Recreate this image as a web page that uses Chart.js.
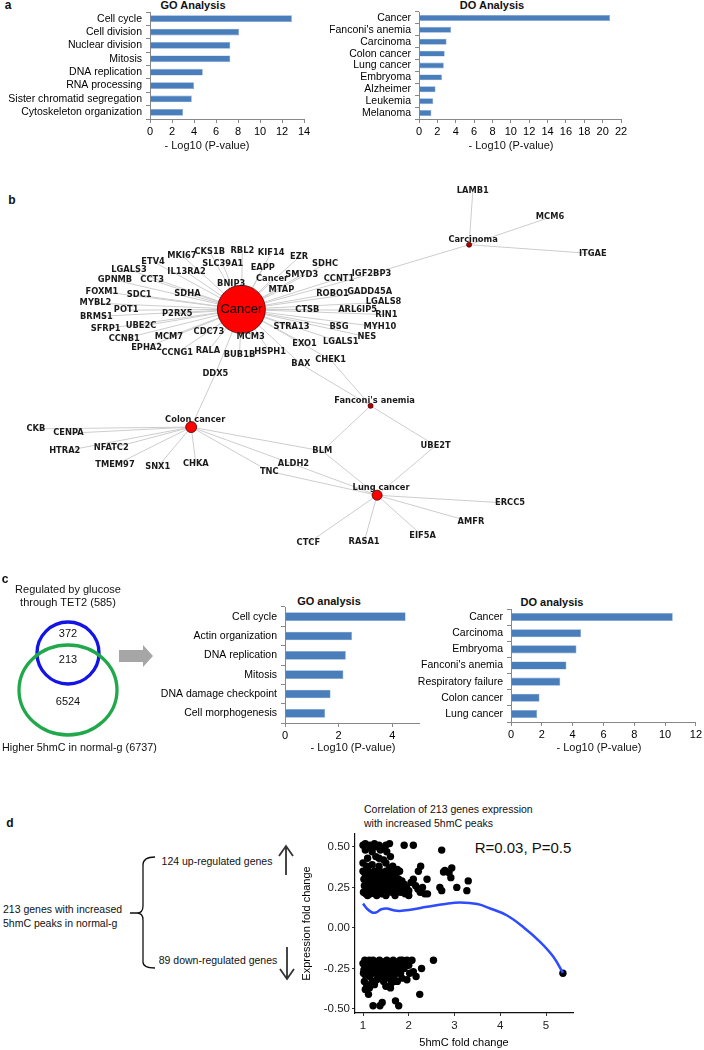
<!DOCTYPE html>
<html>
<head>
<meta charset="utf-8">
<title>Enrichment, network and correlation figure</title>
<script src="https://cdn.jsdelivr.net/npm/chart.js@4.4.0/dist/chart.umd.min.js"></script>
<style>
    body { margin: 0; background: #fff; width: 704px; height: 1050px; position: relative; overflow: hidden;
           font-family: "Liberation Sans", Arial, sans-serif; color: #111; }
    canvas { position: absolute; }
    .t { position: absolute; white-space: nowrap; font-size: 11px; transform: translate(-50%, -50%); line-height: 1; }
    .l { position: absolute; white-space: nowrap; font-size: 10.5px; transform: translateY(-50%); line-height: 1; }
    .b { font-weight: bold; }
    .p { font-weight: bold; font-size: 12px; }
</style>
</head>
<body>

<!-- panel a -->
<div class="t p" style="left:8px;top:5px">a</div>
<div class="t b" style="left:193px;top:5px">GO Analysis</div>
<div class="t b" style="left:492px;top:5px">DO Analysis</div>
<canvas id="goA" width="320" height="141" style="left:0;top:0"></canvas>
<canvas id="doA" width="374" height="141" style="left:330px;top:0"></canvas>
<div class="t" style="left:207px;top:145px">- Log10 (P-value)</div>
<div class="t" style="left:511px;top:145px">- Log10 (P-value)</div>

<!-- panel b -->
<div class="t p" style="left:12px;top:200px">b</div>
<canvas id="network" width="704" height="432" style="left:0;top:150px"></canvas>

<!-- panel c -->
<div class="t p" style="left:5px;top:579px">c</div>
<svg style="position:absolute;left:0;top:600px" width="160" height="150">
    <circle cx="68" cy="53" r="31" fill="none" stroke="#1414e6" stroke-width="3.3"/>
    <ellipse cx="68" cy="90" rx="49" ry="45" fill="none" stroke="#20a84a" stroke-width="3.3"/>
    <polygon points="119,50 143,50 143,45 153,56 143,67 143,62 119,62" fill="#a6a6a6"/>
</svg>
<div class="t" style="left:68px;top:589px">Regulated by glucose</div>
<div class="t" style="left:68px;top:602px">through TET2 (585)</div>
<div class="t" style="left:68px;top:633px" id="vennTop"></div>
<div class="t" style="left:68px;top:659px" id="vennMid"></div>
<div class="t" style="left:68px;top:701px" id="vennLow"></div>
<div class="l" style="left:2px;top:747px;font-size:10.8px">Higher 5hmC in normal-g (6737)</div>
<div class="t b" style="left:329px;top:601px">GO analysis</div>
<div class="t b" style="left:552px;top:602px">DO analysis</div>
<canvas id="goC" width="270" height="150" style="left:160px;top:595px"></canvas>
<canvas id="doC" width="299" height="149" style="left:405px;top:595px"></canvas>
<div class="t" style="left:353px;top:747px">- Log10 (P-value)</div>
<div class="t" style="left:599px;top:747px">- Log10 (P-value)</div>

<!-- panel d -->
<div class="t p" style="left:10px;top:823px">d</div>
<svg style="position:absolute;left:0;top:780px" width="300" height="270">
    <path d="M155,77 C147,77 143,79 143,85 L143,126 C143,131 141,133 137,133 L130,133 M137,133 C141,133 143,135 143,140 L143,182 C143,186 147,188 155,188"
          fill="none" stroke="#111" stroke-width="1.3"/>
    <path d="M286,95 L286,66 M279,76 L286,66 L293,76" fill="none" stroke="#333" stroke-width="1.8"/>
    <path d="M287,167 L287,199 M280,189 L287,199 L294,189" fill="none" stroke="#333" stroke-width="1.8"/>
</svg>
<div class="t" style="left:217px;top:861px;font-size:10.5px">124 up-regulated genes</div>
<div class="t" style="left:218px;top:960px;font-size:10.5px">89 down-regulated genes</div>
<div class="l" style="left:3px;top:909px">213 genes with increased</div>
<div class="l" style="left:3px;top:923px">5hmC peaks in normal-g</div>
<div class="l" style="left:364px;top:809px">Correlation of 213 genes expression</div>
<div class="l" style="left:364px;top:823px">with increased 5hmC peaks</div>
<div class="t" style="left:523px;top:847px;font-size:15px">R=0.03, P=0.5</div>
<canvas id="corr" width="300" height="225" style="left:290px;top:825px"></canvas>

<script>
// ---- panel a: enrichment of genes (-log10 p) ----
var goTermsA = ['Cell cycle', 'Cell division', 'Nuclear division', 'Mitosis', 'DNA replication',
                'RNA processing', 'Sister chromatid segregation', 'Cytoskeleton organization'];
var goScoresA = [12.9, 8.1, 7.3, 7.3, 4.8, 4.0, 3.8, 3.0];
var doTermsA = ['Cancer', "Fanconi's anemia", 'Carcinoma', 'Colon cancer', 'Lung cancer',
                'Embryoma', 'Alzheimer', 'Leukemia', 'Melanoma'];
var doScoresA = [20.8, 3.5, 3.0, 2.8, 2.7, 2.5, 1.8, 1.55, 1.35];

// ---- panel c: overlap genes ----
var vennCounts = [372, 213, 6524];
var goTermsC = ['Cell cycle', 'Actin organization', 'DNA replication', 'Mitosis',
                'DNA damage checkpoint', 'Cell morphogenesis'];
var goScoresC = [4.5, 2.5, 2.27, 2.18, 1.7, 1.5];
var doTermsC = ['Cancer', 'Carcinoma', 'Embryoma', "Fanconi's anemia", 'Respiratory failure',
                'Colon cancer', 'Lung cancer'];
var doScoresC = [10.5, 4.55, 4.25, 3.6, 3.2, 1.85, 1.7];

// ---- panel b: disease network (layout) ----
var hubNames = ['Cancer', 'Carcinoma', "Fanconi's anemia", 'Colon cancer', 'Lung cancer'];
var hubX = [233, 478, 372, 179, 379];
var hubY = [302, 229, 411, 435, 512];
var geneNames = ['CKS1B', 'RBL2', 'KIF14', 'MKI67', 'EZR', 'ETV4', 'SLC39A1', 'SDHC', 'EAPP', 'LGALS3',
    'IL13RA2', 'SMYD3', 'Cancer', 'CCNT1', 'IGF2BP3', 'GPNMB', 'CCT3', 'BNIP3', 'MTAP', 'FOXM1',
    'SDC1', 'SDHA', 'ROBO1', 'GADD45A', 'MYBL2', 'LGALS8', 'POT1', 'P2RX5', 'CTSB', 'ARL6IP5',
    'RIN1', 'BRMS1', 'UBE2C', 'SFRP1', 'STRA13', 'BSG', 'MYH10', 'CDC73', 'MCM3', 'NES',
    'CCNB1', 'MCM7', 'LGALS1', 'EXO1', 'EPHA2', 'CCNG1', 'RALA', 'BUB1B', 'HSPH1', 'CHEK1',
    'BAX', 'DDX5', 'LAMB1', 'MCM6', 'ITGAE', 'CKB', 'CENPA', 'HTRA2', 'NFATC2', 'TMEM97',
    'SNX1', 'CHKA', 'TNC', 'ALDH2', 'BLM', 'UBE2T', 'CTCF', 'RASA1', 'EIF5A', 'AMFR', 'ERCC5'];
var geneX = [199, 234, 265, 169, 295, 138, 213, 323, 256, 112,
    174, 298, 266, 338, 373, 97, 137, 222, 276, 83,
    123, 175, 331, 371, 76, 386, 109, 164, 304, 358,
    389, 77, 125, 87, 287, 338, 382, 198, 243, 368,
    107, 155, 340, 301, 131, 164, 197, 231, 264, 329,
    297, 205, 482, 565, 611, 12, 47, 43, 93, 97,
    143, 184, 263, 289, 320, 442, 305, 365, 428, 480, 522];
var geneY = [237, 236, 238, 241, 243, 248, 251, 251, 255, 257,
    260, 263, 268, 267, 262, 269, 269, 273, 280, 282,
    286, 285, 284, 282, 295, 294, 303, 307, 302, 303,
    308, 310, 321, 324, 322, 322, 322, 327, 333, 333,
    335, 333, 339, 341, 345, 351, 349, 353, 350, 359,
    364, 375, 168, 198, 239, 437, 442, 462, 459, 478,
    480, 476, 485, 477, 462, 456, 566, 565, 558, 542, 521];
// which hubs (index into hubNames) each gene is linked to
var geneLinks = [[0], [0], [0], [0], [0], [0], [0], [0], [0], [0],
    [0], [0], [0], [0], [0, 1], [0], [0], [0], [0], [0],
    [0], [0], [0], [0], [0], [0], [0], [0], [0], [0],
    [0], [0], [0], [0], [0], [0], [0], [0], [0], [0],
    [0], [0], [0], [0], [0], [0], [0], [0], [0], [0, 2],
    [0, 2], [0, 3], [1], [1], [1], [3], [3], [3], [3], [3],
    [3], [3], [3, 4], [3, 4], [2, 3, 4], [2, 4], [4], [4], [4], [4], [4]];

// ---- panel d: 5hmC fold change vs expression fold change ----
var upRegulated = [
    [1.00, 0.51], [1.05, 0.52], [1.10, 0.50], [1.15, 0.51], [1.20, 0.50], [1.25, 0.52], [1.30, 0.50],
    [1.35, 0.51], [1.42, 0.49], [1.50, 0.51], [1.58, 0.52], [1.90, 0.51], [2.10, 0.51], [2.72, 0.48],
    [1.05, 0.48], [1.20, 0.47], [1.38, 0.48], [1.52, 0.47], [1.28, 0.44], [1.35, 0.43], [1.45, 0.42],
    [1.60, 0.44], [1.10, 0.43], [1.00, 0.40], [1.08, 0.38], [1.20, 0.39], [1.35, 0.38], [1.50, 0.40],
    [1.58, 0.37], [1.65, 0.38], [1.75, 0.36], [1.80, 0.35], [2.26, 0.38], [2.21, 0.35], [2.76, 0.345],
    [2.94, 0.37], [2.88, 0.34],
    [1.00, 0.35], [1.02, 0.30], [1.03, 0.26], [1.01, 0.22], [1.05, 0.33], [1.07, 0.28], [1.08, 0.24],
    [1.06, 0.21], [1.10, 0.36], [1.12, 0.31], [1.13, 0.27], [1.11, 0.23], [1.15, 0.34], [1.17, 0.29],
    [1.18, 0.25], [1.16, 0.21], [1.20, 0.32], [1.22, 0.27], [1.23, 0.23], [1.25, 0.35], [1.27, 0.30],
    [1.28, 0.26], [1.26, 0.21], [1.30, 0.33], [1.32, 0.28], [1.33, 0.24], [1.35, 0.36], [1.37, 0.31],
    [1.38, 0.27], [1.36, 0.22], [1.40, 0.34], [1.42, 0.29], [1.43, 0.25], [1.41, 0.21], [1.45, 0.32],
    [1.47, 0.27], [1.48, 0.23], [1.50, 0.35], [1.52, 0.30], [1.53, 0.26], [1.51, 0.21], [1.55, 0.33],
    [1.57, 0.28], [1.58, 0.24], [1.60, 0.31], [1.62, 0.26], [1.63, 0.22], [1.65, 0.34], [1.67, 0.29],
    [1.68, 0.25], [1.70, 0.21], [1.72, 0.32], [1.74, 0.27], [1.76, 0.23], [1.78, 0.30], [1.80, 0.26],
    [1.82, 0.22], [1.85, 0.29], [1.88, 0.24], [1.90, 0.27], [1.92, 0.21], [1.95, 0.25], [2.00, 0.23],
    [2.05, 0.28], [2.10, 0.30], [2.15, 0.26], [2.20, 0.24], [2.25, 0.22], [2.30, 0.25], [2.35, 0.21],
    [2.40, 0.30], [2.41, 0.21], [2.00, 0.20], [1.10, 0.20], [1.30, 0.20], [1.50, 0.20], [1.70, 0.20],
    [2.68, 0.25], [2.72, 0.23], [3.05, 0.25], [3.30, 0.29], [3.27, 0.23], [2.92, 0.31], [2.79, 0.355]
];
var downRegulated = [
    [1.00, -0.22], [1.02, -0.26], [1.04, -0.20], [1.05, -0.29], [1.07, -0.24], [1.09, -0.21], [1.10, -0.27],
    [1.12, -0.23], [1.14, -0.20], [1.15, -0.30], [1.17, -0.25], [1.19, -0.22], [1.20, -0.28], [1.22, -0.20],
    [1.24, -0.24], [1.26, -0.27], [1.28, -0.21], [1.30, -0.25], [1.32, -0.29], [1.34, -0.22], [1.36, -0.20],
    [1.38, -0.26], [1.40, -0.23], [1.42, -0.29], [1.44, -0.21], [1.46, -0.25], [1.48, -0.27], [1.50, -0.22],
    [1.52, -0.20], [1.54, -0.26], [1.56, -0.30], [1.58, -0.23], [1.60, -0.21], [1.62, -0.27], [1.64, -0.24],
    [1.66, -0.20], [1.68, -0.31], [1.70, -0.22], [1.73, -0.26], [1.76, -0.21], [1.78, -0.24], [1.80, -0.28],
    [1.83, -0.22], [1.86, -0.20], [1.90, -0.25], [1.93, -0.21], [1.96, -0.20], [2.00, -0.23], [2.07, -0.20],
    [2.10, -0.27], [1.01, -0.28], [1.11, -0.25], [1.21, -0.23], [1.31, -0.21], [1.41, -0.27], [1.51, -0.29],
    [1.61, -0.24], [1.71, -0.28], [1.81, -0.20],
    [1.03, -0.33], [1.08, -0.35], [1.05, -0.38], [1.12, -0.41], [1.14, -0.37], [1.20, -0.33], [1.25, -0.35],
    [1.30, -0.32], [1.45, -0.33], [1.50, -0.36], [1.55, -0.31], [1.60, -0.37], [1.62, -0.34], [1.70, -0.33],
    [1.75, -0.33], [1.82, -0.28], [1.85, -0.31], [1.40, -0.30],
    [1.22, -0.48], [1.37, -0.48], [1.42, -0.46], [1.71, -0.45], [1.78, -0.48],
    [2.16, -0.30], [2.28, -0.25], [2.54, -0.20], [2.24, -0.41], [1.96, -0.32], [2.02, -0.28], [5.37, -0.28]
];
var fitX = [1.0, 1.1, 1.2, 1.28, 1.4, 1.52, 1.65, 1.8, 2.0, 2.4, 2.8, 3.12, 3.5, 3.78, 4.14, 4.5, 4.87, 5.16, 5.37];
var fitY = [0.15, 0.115, 0.095, 0.095, 0.115, 0.12, 0.11, 0.105, 0.11, 0.13, 0.148, 0.156, 0.147, 0.12, 0.078, 0.006, -0.086, -0.178, -0.278];

Chart.defaults.font.family = '"Liberation Sans", Arial, sans-serif';
Chart.defaults.color = '#000';
Chart.defaults.animation = false;
Chart.defaults.responsive = false;
Chart.defaults.plugins.legend.display = false;
Chart.defaults.plugins.tooltip.enabled = false;

function enrichmentChart(id, terms, scores, xmax, axisWidth, padTop, padRight, barPct, labelSize) {
    new Chart(document.getElementById(id), {
        type: 'bar',
        data: {
            labels: terms,
            datasets: [{
                data: scores,
                backgroundColor: '#4a7ebb',
                borderColor: '#7ea3d4',
                borderWidth: 0.6,
                barPercentage: barPct,
                categoryPercentage: 1
            }]
        },
        options: {
            indexAxis: 'y',
            layout: { padding: { top: padTop, right: padRight, left: 0, bottom: 0 } },
            scales: {
                x: {
                    min: 0,
                    max: xmax,
                    ticks: { stepSize: 2, includeBounds: false, font: { size: 11 }, padding: 2, maxRotation: 0 },
                    grid: { drawOnChartArea: false, tickLength: 4, color: '#888' },
                    border: { color: '#888' },
                    afterFit: function (s) { s.height = 22; }
                },
                y: {
                    ticks: { font: { size: labelSize }, padding: 4, autoSkip: false },
                    grid: { drawOnChartArea: false, tickLength: 4, color: '#888' },
                    border: { color: '#888' },
                    afterFit: function (s) { s.width = axisWidth; }
                }
            }
        }
    });
}

enrichmentChart('goA', goTermsA, goScoresA, 14, 150, 12, 16, 0.5, 10.5);
enrichmentChart('doA', doTermsA, doScoresA, 22, 89, 12, 83, 0.5, 10.5);
enrichmentChart('goC', goTermsC, goScoresC, 5, 125, 12, 11, 0.45, 10.5);
enrichmentChart('doC', doTermsC, doScoresC, 12, 106, 14, 4, 0.5, 10.5);

// network
var edgePoints = [];
geneNames.forEach(function (name, i) {
    geneLinks[i].forEach(function (h) {
        edgePoints.push({ x: hubX[h], y: hubY[h] });
        edgePoints.push({ x: geneX[i], y: geneY[i] });
        edgePoints.push({ x: geneX[i], y: null });
    });
});
var hubRadius = [24, 2.5, 2.5, 5.5, 5];
var hubFill = ['#ff0000', '#b00000', '#b00000', '#ff0000', '#ff0000'];

var networkLabels = {
    id: 'networkLabels',
    afterDatasetsDraw: function (chart) {
        var ctx = chart.ctx, xs = chart.scales.x, ys = chart.scales.y;
        ctx.save();
        ctx.textAlign = 'center';
        ctx.textBaseline = 'middle';
        ctx.fillStyle = '#1a1a1a';
        ctx.font = 'bold 8.3px "DejaVu Sans"';
        geneNames.forEach(function (name, i) {
            ctx.fillText(name, xs.getPixelForValue(geneX[i]), ys.getPixelForValue(geneY[i]));
        });
        hubNames.forEach(function (name, i) {
            var px = xs.getPixelForValue(hubX[i]), py = ys.getPixelForValue(hubY[i]);
            if (i === 0) {
                ctx.font = '13px "Liberation Sans"';
                ctx.fillStyle = '#000';
                ctx.fillText(name, px, py);
                ctx.font = 'bold 8.3px "DejaVu Sans"';
                ctx.fillStyle = '#1a1a1a';
            } else {
                ctx.fillText(name, px + 4, py - hubRadius[i] - 2);
            }
        });
        ctx.restore();
    }
};

new Chart(document.getElementById('network'), {
    type: 'scatter',
    data: {
        datasets: [
            {
                data: hubX.map(function (x, i) { return { x: x, y: hubY[i] }; }),
                pointRadius: hubRadius,
                backgroundColor: hubFill,
                borderColor: '#4a0000',
                borderWidth: 0.8,
                clip: false
            },
            {
                type: 'line',
                data: edgePoints,
                borderColor: '#cdcdcd',
                borderWidth: 1,
                pointRadius: 0,
                spanGaps: false,
                clip: false
            }
        ]
    },
    options: {
        layout: { padding: 0 },
        scales: {
            x: { type: 'linear', display: false, min: 0, max: 704 },
            y: { display: false, min: 150, max: 582, reverse: true }
        }
    },
    plugins: [networkLabels]
});

// venn counts
document.getElementById('vennTop').textContent = vennCounts[0];
document.getElementById('vennMid').textContent = vennCounts[1];
document.getElementById('vennLow').textContent = vennCounts[2];

// correlation scatter
function toPoints(list) {
    return list.map(function (p) { return { x: p[0], y: p[1] }; });
}
new Chart(document.getElementById('corr'), {
    type: 'scatter',
    data: {
        datasets: [
            {
                type: 'line',
                data: fitX.map(function (x, i) { return { x: x, y: fitY[i] }; }),
                borderColor: '#2e4bff',
                borderWidth: 2.5,
                pointRadius: 0,
                tension: 0.4,
                fill: false
            },
            { data: toPoints(upRegulated), backgroundColor: '#000', pointRadius: 3.7, borderWidth: 0 },
            { data: toPoints(downRegulated), backgroundColor: '#000', pointRadius: 3.7, borderWidth: 0 }
        ]
    },
    options: {
        layout: { padding: { top: 8, right: 17, left: 10, bottom: 0 } },
        scales: {
            x: {
                type: 'linear',
                min: 0.825,
                max: 5.59,
                ticks: { stepSize: 1, includeBounds: false, font: { size: 11.5 }, color: '#222', padding: 3 },
                grid: { drawOnChartArea: false, tickLength: 3, color: '#333' },
                border: { color: '#111', width: 1.2 },
                title: { display: true, text: '5hmC fold change', font: { size: 11 }, padding: { top: 0, bottom: 0 } },
                afterFit: function (s) { s.height = 37; }
            },
            y: {
                min: -0.525,
                max: 0.58,
                ticks: {
                    stepSize: 0.25, includeBounds: false, font: { size: 11.5 }, color: '#222', padding: 2,
                    callback: function (v) { return v.toFixed(2); }
                },
                grid: { drawOnChartArea: false, tickLength: 3, color: '#333' },
                border: { color: '#111', width: 1.2 },
                title: { display: true, text: 'Expression fold change', font: { size: 11 }, padding: { top: 0, bottom: 4 } },
                afterFit: function (s) { s.width = 55; }
            }
        }
    }
});
</script>
</body>
</html>
